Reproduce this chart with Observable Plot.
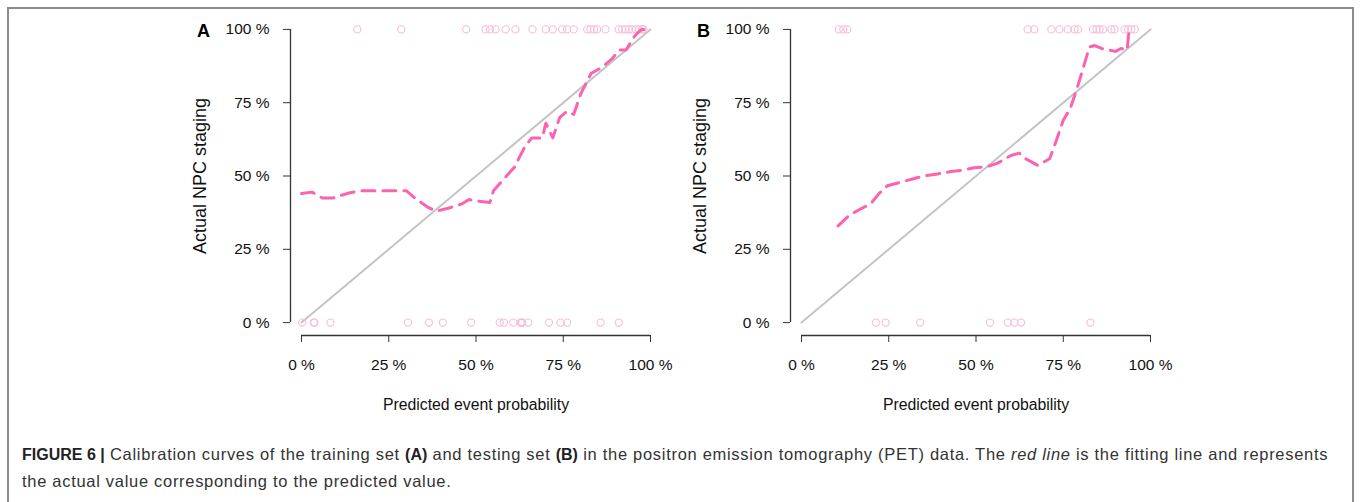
<!DOCTYPE html>
<html>
<head>
<meta charset="utf-8">
<script src="https://cdn.jsdelivr.net/npm/d3@7"></script>
<script src="https://cdn.jsdelivr.net/npm/@observablehq/plot@0.6"></script>
<style>
  html, body { margin: 0; padding: 0; background: #fff; }
  body { width: 1362px; height: 502px; position: relative; overflow: hidden; font-family: "Liberation Sans", Arial, sans-serif; }
  #frame { position: absolute; left: 7px; top: 7px; width: 1343px; height: 520px; border: 2px solid #8c8c8c; border-bottom: none; }
  .panel { position: absolute; top: 0; }
  #panelA { left: 0; }
  #panelB { left: 500px; }
  .panel svg { background: transparent; max-width: none; overflow: visible; }
  #caption { position: absolute; left: 22px; top: 441px; width: 1330px; font-size: 16.5px; letter-spacing: 0.7px; line-height: 26px; color: #333; white-space: nowrap; }
  #caption b { color: #222; letter-spacing: 0; font-size: 16px; }
</style>
</head>
<body>
<div id="frame"></div>
<div id="panelA" class="panel"></div>
<div id="panelB" class="panel"></div>
<div id="caption"><b>FIGURE 6 |</b> Calibration curves of the training set <b>(A)</b> and testing set <b>(B)</b> in the positron emission tomography (PET) data. The <i>red line</i> is the fitting line and represents<br>the actual value corresponding to the predicted value.</div>
<script>
// Axis ticks shared by both panels
const xTicks = [0, 0.25, 0.5, 0.75, 1];
const yTicks = [0, 0.25, 0.5, 0.75, 1];
const xTitle = "Predicted event probability";
const yTitle = "Actual NPC staging";

// Ideal calibration (predicted = observed)
const ideal = [0, 1];

// Training set (A): smoothed calibration curve
const predA = [0, 0.03, 0.06, 0.09, 0.13, 0.17, 0.22, 0.27, 0.30, 0.33, 0.36, 0.385, 0.42, 0.46, 0.48, 0.50, 0.54, 0.55, 0.58, 0.61, 0.64, 0.66, 0.69, 0.70, 0.72, 0.74, 0.76, 0.78, 0.80, 0.83, 0.86, 0.89, 0.91, 0.93, 0.95, 0.965, 0.975, 0.985];
const obsA  = [0.44, 0.445, 0.425, 0.425, 0.44, 0.45, 0.45, 0.45, 0.45, 0.42, 0.395, 0.38, 0.39, 0.405, 0.42, 0.415, 0.41, 0.45, 0.49, 0.53, 0.60, 0.63, 0.63, 0.68, 0.63, 0.70, 0.72, 0.71, 0.78, 0.85, 0.87, 0.90, 0.93, 0.93, 0.97, 0.99, 1.0, 1.0];
// Training set (A): individual predictions for positive / negative cases
const eventsA = [0.16, 0.286, 0.472, 0.527, 0.54, 0.556, 0.585, 0.613, 0.662, 0.70, 0.72, 0.747, 0.761, 0.78, 0.819, 0.828, 0.838, 0.847, 0.871, 0.909, 0.919, 0.928, 0.938, 0.947, 0.957, 0.967, 0.976, 0.98];
const nonEventsA = [0.002, 0.035, 0.037, 0.083, 0.305, 0.365, 0.405, 0.486, 0.568, 0.58, 0.607, 0.628, 0.632, 0.632, 0.65, 0.709, 0.742, 0.761, 0.857, 0.909];

// Testing set (B): smoothed calibration curve
const predB = [0.105, 0.136, 0.165, 0.198, 0.222, 0.246, 0.284, 0.318, 0.351, 0.39, 0.428, 0.457, 0.495, 0.533, 0.562, 0.60, 0.624, 0.638, 0.677, 0.711, 0.73, 0.75, 0.77, 0.79, 0.81, 0.825, 0.84, 0.86, 0.88, 0.90, 0.915, 0.933, 0.937, 0.94];
const obsB  = [0.33, 0.365, 0.385, 0.405, 0.44, 0.467, 0.479, 0.49, 0.50, 0.507, 0.515, 0.519, 0.528, 0.532, 0.544, 0.57, 0.578, 0.562, 0.536, 0.559, 0.62, 0.69, 0.73, 0.80, 0.88, 0.94, 0.945, 0.935, 0.93, 0.925, 0.935, 0.93, 0.98, 1.0];
// Testing set (B): individual predictions for positive / negative cases
const eventsB = [0.107, 0.12, 0.131, 0.648, 0.667, 0.716, 0.739, 0.763, 0.782, 0.792, 0.835, 0.845, 0.854, 0.864, 0.888, 0.897, 0.926, 0.936, 0.945, 0.955];
const nonEventsB = [0.213, 0.241, 0.34, 0.54, 0.591, 0.61, 0.629, 0.828];

const pct = d => `${Math.round(d * 100)} %`;
const xPad = 0.0315, yPad = 0.044;

function calibrationPanel(pred, obs, events, nonEvents, letter) {
  const curve = pred.map((p, i) => ({pred: p, obs: obs[i]}));
  return Plot.plot({
    width: 680,
    height: 430,
    marginLeft: 290,
    marginRight: 19,
    marginTop: 16,
    marginBottom: 95,
    x: {domain: [xTicks[0] - xPad, xTicks[xTicks.length - 1] + xPad]},
    y: {domain: [yTicks[0] - yPad, yTicks[yTicks.length - 1] + yPad]},
    style: {fontFamily: "'Liberation Sans', Arial, sans-serif", fontSize: "15.5px", color: "#111", background: "transparent", overflow: "visible"},
    marks: [
      Plot.line(ideal, {x: d => d, y: d => d, stroke: "#c4c4c4", strokeWidth: 2}),
      Plot.dot(events, {x: d => d, y: () => 1, r: 3.6, stroke: "#f7bcd8", strokeWidth: 1.1}),
      Plot.dot(nonEvents, {x: d => d, y: () => 0, r: 3.6, stroke: "#f7bcd8", strokeWidth: 1.1}),
      Plot.line(curve, {x: "pred", y: "obs", stroke: "#fc62ae", strokeWidth: 3, strokeDasharray: "13,8", curve: "linear"}),
      // R-style axis lines spanning first to last tick
      Plot.ruleY([yTicks[0] - yPad], {x1: () => xTicks[0], x2: () => xTicks[xTicks.length - 1], stroke: "#333", strokeWidth: 1.3}),
      Plot.ruleX([xTicks[0] - xPad], {y1: () => yTicks[0], y2: () => yTicks[yTicks.length - 1], stroke: "#333", strokeWidth: 1.3}),
      Plot.axisX({ticks: xTicks, tickSize: 7, tickPadding: 16, tickFormat: pct, label: null, stroke: "#333"}),
      Plot.axisY({ticks: yTicks, tickSize: 7, tickPadding: 14, tickFormat: pct, label: null, stroke: "#333"}),
      Plot.text([xTitle], {frameAnchor: "bottom", dy: 74, fontSize: 15.8, fill: "#111"}),
      Plot.text([yTitle], {frameAnchor: "left", dx: -90, rotate: -90, textAnchor: "middle", fontSize: 18, fill: "#111"}),
      Plot.text([letter], {frameAnchor: "top-left", dx: -87, dy: 15, textAnchor: "middle", lineAnchor: "middle", fontWeight: "bold", fontSize: 18, fill: "#000"})
    ]
  });
}

document.getElementById("panelA").append(calibrationPanel(predA, obsA, eventsA, nonEventsA, "A"));
document.getElementById("panelB").append(calibrationPanel(predB, obsB, eventsB, nonEventsB, "B"));
</script>
</body>
</html>
